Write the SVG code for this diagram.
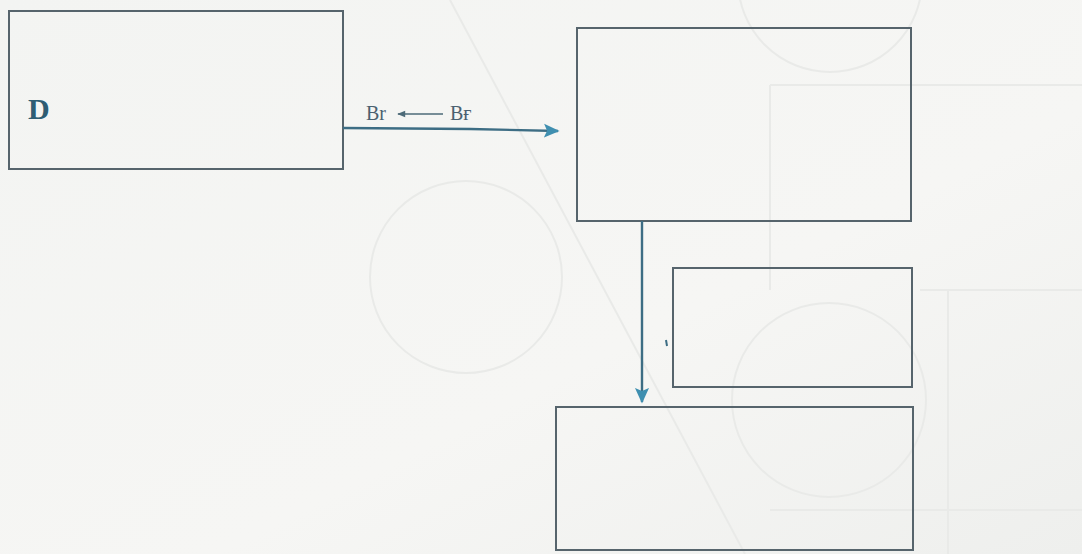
<svg xmlns="http://www.w3.org/2000/svg" width="1082" height="554" viewBox="0 0 1082 554">
  <defs>
    <linearGradient id="paper" x1="0" y1="0" x2="1" y2="1">
      <stop offset="0" stop-color="#f3f4f2"/>
      <stop offset="0.6" stop-color="#f6f6f4"/>
      <stop offset="1" stop-color="#eeefed"/>
    </linearGradient>
    <marker id="head" viewBox="0 0 10 10" refX="9" refY="5" markerWidth="6.5" markerHeight="6.5" orient="auto" markerUnits="strokeWidth">
      <path d="M0,0.5 L10,5 L0,9.5 L2,5 Z" fill="#3f8fb0"/>
    </marker>
    <marker id="small" viewBox="0 0 10 10" refX="9" refY="5" markerWidth="6" markerHeight="5" orient="auto" markerUnits="strokeWidth">
      <path d="M0,1 L10,5 L0,9 Z" fill="#4d6a78"/>
    </marker>
    <style>
      .box { fill: none; stroke: #56646c; stroke-width: 2; }
      .link { fill: none; stroke: #3d6d84; stroke-width: 2.4; }
      .ghost { fill: none; stroke: #e9eae8; stroke-width: 2; }
      .lbl { font-family: "Liberation Serif", "DejaVu Serif", serif; font-size: 20px; fill: #4b6170; }
      .title { font-family: "Liberation Serif", "DejaVu Serif", serif; font-size: 30px; font-weight: bold; fill: #2e5d73; }
    </style>
  </defs>

  <!-- paper background with faint show-through lines -->
  <rect width="1082" height="554" fill="url(#paper)"/>
  <g id="show-through">
    <circle class="ghost" cx="466" cy="277" r="96"/>
    <circle class="ghost" cx="829" cy="400" r="97"/>
    <circle class="ghost" cx="830" cy="-20" r="92"/>
    <path class="ghost" d="M450,0 L745,554"/>
    <path class="ghost" d="M770,85 H1082 M770,85 V290 M920,290 H1082 M948,290 V554 M770,510 H1082"/>
  </g>

  <g id="node-d">
    <rect class="box" x="9" y="11" width="334" height="158"/>
    <text class="title" x="28" y="119">D</text>
  </g>
  <g id="node-top">
    <rect class="box" x="577" y="28" width="334" height="193"/>
  </g>
  <g id="node-middle">
    <rect class="box" x="673" y="268" width="239" height="119"/>
  </g>
  <g id="node-bottom">
    <rect class="box" x="556" y="407" width="357" height="143"/>
  </g>

  <g id="connectors">
    <path class="link" d="M343,128 L470,129 L558,131" marker-end="url(#head)"/>
    <path class="link" d="M642,221 V402" marker-end="url(#head)"/>
    <path d="M443,114 H398" stroke="#4d6a78" stroke-width="1.6" marker-end="url(#small)"/>
    <path d="M666,340 L667,346" stroke="#3d6d84" stroke-width="2"/>
  </g>

  <g id="labels">
    <text class="lbl" x="366" y="120">Br</text>
    <text class="lbl" x="450" y="120">Bғ</text>
  </g>
</svg>
